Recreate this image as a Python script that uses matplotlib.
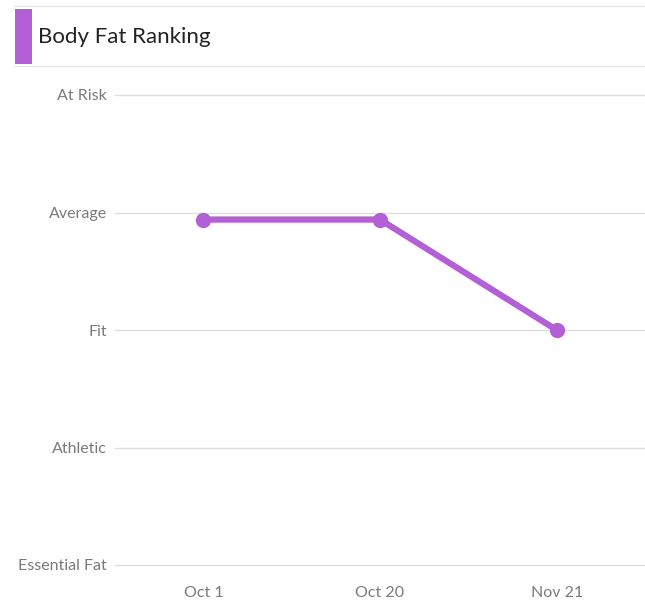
import matplotlib
matplotlib.use("Agg")
import matplotlib.pyplot as plt
from matplotlib.patches import Rectangle
from matplotlib.lines import Line2D

# data
dates = ["Oct 1", "Oct 20", "Nov 21"]
ranking = [2.94, 2.94, 2.0]
levels = ["Essential Fat", "Athletic", "Fit", "Average", "At Risk"]

purple = "#b35fd5"
grid_gray = "#dedede"
label_gray = "#7a7a7a"

plt.rcParams["font.family"] = ["Lato", "DejaVu Sans"]

fig = plt.figure(figsize=(6.45, 6.05), dpi=100)
W, H = 645, 605

# header: rule lines, accent block, title
for ypx in (6, 66):
    fig.add_artist(Line2D([14 / W, 1.0], [1 - ypx / H] * 2, color="#e6e6e6", lw=1))
fig.add_artist(Rectangle((15 / W, 1 - 64 / H), 17 / W, 55 / H, color=purple, lw=0))
fig.text(38 / W, 1 - 37 / H, "Body Fat Ranking", fontsize=16, color="#222222",
         va="center", ha="left")

ax = fig.add_axes([115 / W, 40 / H, 530 / W, 470 / H])
x = list(range(len(dates)))
ax.plot(x, ranking, color=purple, lw=4.5, marker="o", ms=10, clip_on=False, zorder=3)

ax.set_xlim(-0.5, len(dates) - 0.5)
ax.set_ylim(0, len(levels) - 1)
ax.set_xticks(x)
ax.set_xticklabels(dates)
ax.set_yticks(range(len(levels)))
ax.set_yticklabels(levels)
ax.grid(axis="y", color=grid_gray, lw=1)
for gl in ax.get_ygridlines():
    gl.set_clip_on(False)
ax.set_axisbelow(True)
for s in ax.spines.values():
    s.set_visible(False)
ax.tick_params(axis="both", length=0, labelcolor=label_gray, labelsize=11.5)
ax.tick_params(axis="y", pad=6)
ax.tick_params(axis="x", pad=15)

fig.savefig("out.png", dpi=100)
